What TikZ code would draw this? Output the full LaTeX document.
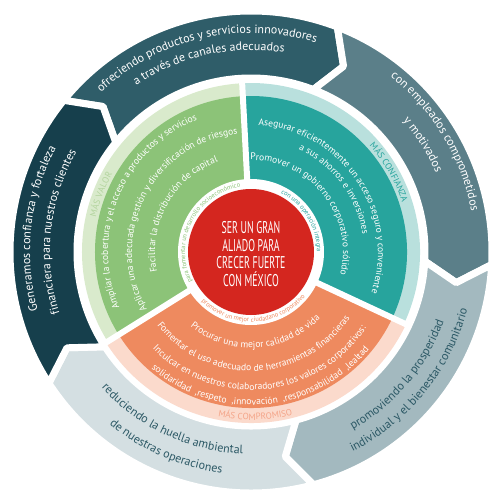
\documentclass[tikz,border=0pt]{standalone}
\usepackage{fontspec}
\setmainfont{PT Sans}
\newfontfamily\condfont[FakeStretch=0.58]{PT Sans}
\usetikzlibrary{decorations.text}

\definecolor{ringA}{HTML}{2F5D69}
\definecolor{ringB}{HTML}{5B7F89}
\definecolor{ringC}{HTML}{A3B9BF}
\definecolor{ringD}{HTML}{D4DFE2}
\definecolor{ringE}{HTML}{163F4C}
\definecolor{ringtext}{HTML}{2B5865}
\definecolor{valor}{HTML}{8CC378}
\definecolor{valorlight}{HTML}{D9EACC}
\definecolor{valortext}{HTML}{B3D49E}
\definecolor{confianza}{HTML}{27A49D}
\definecolor{confianzalight}{HTML}{B9E0DD}
\definecolor{compromiso}{HTML}{EE8A5F}
\definecolor{compromisolight}{HTML}{FBDACC}
\definecolor{compromisotext}{HTML}{F4A488}
\definecolor{aliado}{HTML}{D4261F}

\newcommand\ringfont{\fontsize{12}{14}\selectfont}
\newcommand\sectorfont{\fontsize{9.6}{11}\selectfont}
\newcommand\bandfont{\fontsize{9}{10}\selectfont}
\newcommand\tinyfont{\fontsize{6.5}{7}\selectfont}

\newcommand\cwtext[5]{\path[decorate,decoration={text along path,text align=center,text color=#4,text={#5}}] (#2+#3:#1) arc[start angle=#2+#3,end angle=#2-#3,radius=#1];}
\newcommand\ccwtext[5]{\path[decorate,decoration={text along path,text align=center,text color=#4,text={#5}}] (#2-#3:#1) arc[start angle=#2-#3,end angle=#2+#3,radius=#1];}

\begin{document}
\begin{tikzpicture}[x=1pt,y=1pt]
	\useasboundingbox (-251,-247) rectangle (248,252);

	\foreach \s/\c in {141/ringA,69/ringB,-3/ringC,-75/ringD,-147/ringE}
		\filldraw[fill=\c,draw=white,line width=7pt,line join=round] (\s:241) arc[start angle=\s,end angle=\s-72,radius=241] -- (\s-77.5:207.5) -- (\s-72:174) arc[start angle=\s-72,end angle=\s,radius=174] -- (\s-5.5:207.5) -- cycle;

	\foreach \a/\b/\c/\l/\r in {93/212/valor/valorlight/169,-25/93/confianza/confianzalight/169,212/335/compromiso/compromisolight/171}{
		\fill[\l] (0,0) -- (\a:\r) arc[start angle=\a,end angle=\b,radius=\r] -- cycle;
		\fill[\c] (0,0) -- (\a:156) arc[start angle=\a,end angle=\b,radius=156] -- cycle;
	}
	\fill[white] (0,0) circle[radius=73];
	\foreach \a in {93,212,335}
		\draw[white,line width=6pt] (0,0) -- (\a:173);
	\fill[aliado] (0,0) circle[radius=63];

	\node[align=center,text=white,font=\condfont\fontsize{17}{17.7}\selectfont] (lema) at (0,-2) {SER UN GRAN\\ALIADO PARA\\CRECER FUERTE\\CON MÉXICO};

	\cwtext{219}{103}{36}{white}{|\ringfont|ofreciendo productos y servicios innovadores}
	\cwtext{202}{102.6}{36}{white}{|\ringfont|a través de canales adecuados}
	\cwtext{224}{31}{36}{white}{|\ringfont|con empleados comprometidos}
	\cwtext{201}{32}{36}{white}{|\ringfont|y motivados}
	\ccwtext{205}{-40}{36}{ringtext}{|\ringfont|promoviendo la prosperidad}
	\ccwtext{224}{-39}{36}{ringtext}{|\ringfont|individual y el bienestar comunitario}
	\ccwtext{202}{245}{36}{ringtext}{|\ringfont|reduciendo la huella ambiental}
	\ccwtext{223}{246.5}{36}{ringtext}{|\ringfont|de nuestras operaciones}
	\cwtext{221}{173.6}{36}{white}{|\ringfont|Generamos confianza y fortaleza}
	\cwtext{201}{174}{36}{white}{|\ringfont|financiera para nuestros clientes}

	\cwtext{143}{157.5}{58}{white}{|\sectorfont|Ampliar la cobertura y el acceso a productos y servicios}
	\cwtext{119}{152.7}{62}{white}{|\sectorfont|Aplicar una adecuada gestión y diversificación de riesgos}
	\cwtext{96}{151}{62}{white}{|\sectorfont|Facilitar la distribución de capital}
	\cwtext{127}{34}{62}{white}{|\sectorfont|Asegurar eficientemente un acceso seguro y conveniente}
	\cwtext{113}{37}{62}{white}{|\sectorfont|a sus ahorros e inversiones}
	\cwtext{92}{38}{64}{white}{|\sectorfont|Promover un gobierno corporativo sólido}
	\ccwtext{96}{273.5}{62}{white}{|\sectorfont|Procurar una mejor calidad de vida}
	\ccwtext{119}{272}{62}{white}{|\sectorfont|Fomentar el uso adecuado de herramientas financieras}
	\ccwtext{138}{275.5}{62}{white}{|\sectorfont|Inculcar en nuestros colaboradores los valores corporativos:}
	\ccwtext{153}{275}{64}{white}{|\sectorfont|solidaridad{\ } ,respeto{\ } ,innovación{\ } ,responsabilidad{\ } ,lealtad}

	\cwtext{159}{159}{25}{valortext}{|\bandfont|MÁS VALOR}
	\cwtext{159}{30}{25}{confianza}{|\bandfont|MÁS CONFIANZA}
	\ccwtext{168}{271.5}{25}{compromisotext}{|\bandfont|MÁS COMPROMISO}

	\cwtext{66}{31.5}{48}{confianza}{|\tinyfont|con una operación íntegra}
	\cwtext{66}{153}{62}{valor}{|\tinyfont|para fomentar un desarrollo socioeconómico}
	\ccwtext{70}{272.8}{64}{compromiso}{|\tinyfont|promover un mejor ciudadano corporativo}
\end{tikzpicture}
\end{document}
